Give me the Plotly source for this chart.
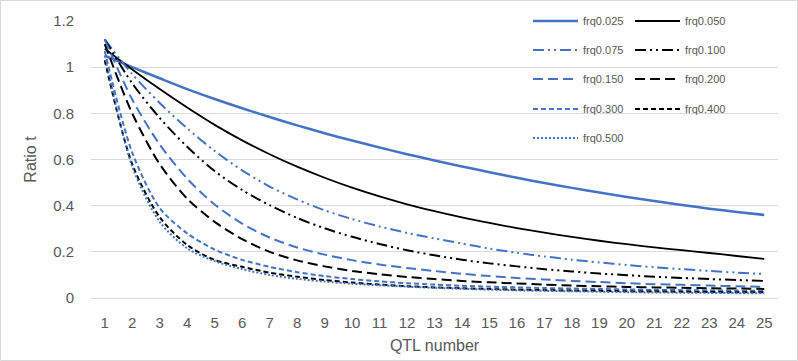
import plotly.graph_objects as go

qtl = list(range(1, 26))

frq0025 = [1.05, 1.00, 0.952, 0.905, 0.862, 0.822, 0.784, 0.748, 0.714, 0.682, 0.652, 0.623, 0.596, 0.57, 0.545,
           0.521, 0.498, 0.477, 0.457, 0.438, 0.42, 0.403, 0.387, 0.373, 0.360]
frq0050 = [1.08, 0.99, 0.905, 0.825, 0.75, 0.683, 0.623, 0.569, 0.521, 0.478, 0.44, 0.406, 0.376, 0.349, 0.325,
           0.303, 0.283, 0.265, 0.248, 0.233, 0.219, 0.207, 0.195, 0.182, 0.169]
frq0075 = [1.12, 0.97, 0.845, 0.735, 0.637, 0.553, 0.483, 0.427, 0.38, 0.342, 0.31, 0.282, 0.258, 0.236, 0.214,
           0.196, 0.18, 0.166, 0.154, 0.143, 0.133, 0.125, 0.117, 0.11, 0.104]
frq0100 = [1.12, 0.93, 0.78, 0.655, 0.55, 0.468, 0.402, 0.347, 0.302, 0.265, 0.234, 0.207, 0.185, 0.166, 0.15,
           0.137, 0.125, 0.115, 0.106, 0.099, 0.092, 0.087, 0.082, 0.078, 0.074]
frq0150 = [1.12, 0.86, 0.665, 0.517, 0.405, 0.322, 0.262, 0.219, 0.188, 0.164, 0.145, 0.13, 0.117, 0.105, 0.095,
           0.087, 0.08, 0.074, 0.069, 0.064, 0.06, 0.057, 0.054, 0.051, 0.048]
frq0200 = [1.10, 0.80, 0.58, 0.43, 0.33, 0.255, 0.20, 0.163, 0.137, 0.117, 0.103, 0.091, 0.082, 0.074, 0.068,
           0.063, 0.058, 0.054, 0.051, 0.048, 0.046, 0.044, 0.042, 0.041, 0.039]
frq0300 = [1.07, 0.63, 0.39, 0.28, 0.21, 0.165, 0.135, 0.112, 0.095, 0.082, 0.072, 0.064, 0.058, 0.053, 0.049,
           0.046, 0.043, 0.041, 0.039, 0.037, 0.035, 0.034, 0.033, 0.032, 0.031]
frq0400 = [1.03, 0.58, 0.35, 0.23, 0.165, 0.135, 0.11, 0.092, 0.078, 0.067, 0.058, 0.051, 0.046, 0.042, 0.039,
           0.036, 0.034, 0.032, 0.031, 0.029, 0.028, 0.027, 0.026, 0.025, 0.025]
frq0500 = [1.05, 0.57, 0.33, 0.215, 0.16, 0.125, 0.10, 0.083, 0.071, 0.062, 0.055, 0.049, 0.044, 0.04, 0.036,
           0.033, 0.031, 0.029, 0.027, 0.025, 0.024, 0.023, 0.022, 0.021, 0.020]

names = ["frq0.025", "frq0.050", "frq0.075", "frq0.100", "frq0.150",
         "frq0.200", "frq0.300", "frq0.400", "frq0.500"]
series = [frq0025, frq0050, frq0075, frq0100, frq0150, frq0200, frq0300, frq0400, frq0500]

BLUE = "#4472C4"
BLACK = "#000000"
colors = [BLUE, BLACK, BLUE, BLACK, BLUE, BLACK, BLUE, BLACK, BLUE]
LDDD = "11px,4px,2px,4px,2px,4px"
dashes = ["solid", "solid", LDDD, LDDD, "10px,5px", "10px,5px", "5px,3px", "5px,3px", "2px,2px"]
widths = [2.5, 1.8, 2, 2, 2, 2, 2, 2, 2]
legend_ids = ["legend", "legend", "legend2", "legend2", "legend3", "legend3", "legend4", "legend4", "legend5"]

W, H = 798, 361
ML, MR, MT, MB = 91, 20, 21, 63

fig = go.Figure()
for nm, ys, c, d, w, lg in zip(names, series, colors, dashes, widths, legend_ids):
    fig.add_trace(go.Scatter(
        x=qtl, y=ys, name=nm, mode="lines",
        line=dict(color=c, dash=d, width=w, shape="spline", smoothing=0.8),
        legend=lg,
    ))

GREY = "#595959"
row_y = [21, 50, 79, 109, 138]
legend_common = dict(
    orientation="h", xref="container", yref="container",
    x=528 / W, xanchor="left", yanchor="middle",
    bgcolor="rgba(0,0,0,0)", font=dict(family="Liberation Sans, Arial", size=11, color=GREY),
    entrywidthmode="pixels", entrywidth=42, itemwidth=45, tracegroupgap=0,
)
legend_layout = {}
for i, ry in enumerate(row_y):
    key = "legend" if i == 0 else f"legend{i+1}"
    legend_layout[key] = dict(legend_common, y=1 - ry / H)

fig.update_layout(
    width=W, height=H,
    margin=dict(l=ML, r=MR, t=MT, b=MB, autoexpand=False),
    paper_bgcolor="white", plot_bgcolor="white",
    font=dict(family="Liberation Sans, Arial", color=GREY),
    showlegend=True,
    **legend_layout,
    xaxis=dict(
        range=[0.5, 25.5], tickmode="array", tickvals=qtl, ticktext=[str(v) for v in qtl],
        showgrid=False, zeroline=False, showline=False, ticks="",
        tickfont=dict(size=15, color=GREY), ticklabelstandoff=14,
        title=dict(text="QTL number", font=dict(size=16, color=GREY), standoff=9),
    ),
    yaxis=dict(
        range=[0, 1.2], tickmode="array", tickvals=[0, 0.2, 0.4, 0.6, 0.8, 1.0, 1.2],
        ticktext=["0", "0.2", "0.4", "0.6", "0.8", "1", "1.2"],
        showgrid=True, gridcolor="#D9D9D9", gridwidth=1,
        zeroline=True, zerolinecolor="#D9D9D9", zerolinewidth=1,
        showline=False, ticks="", tickfont=dict(size=15, color=GREY), ticklabelstandoff=16,
        title=dict(text="Ratio t", font=dict(size=16, color=GREY), standoff=12),
    ),
)

pw, ph = W - ML - MR, H - MT - MB
fig.add_shape(
    type="rect", xref="paper", yref="paper",
    x0=(0.5 - ML) / pw, x1=(W - 0.5 - ML) / pw,
    y0=-(H - 0.5 - MT - ph) / ph, y1=(MT - 0.5) / ph + 1,
    line=dict(color="#D9D9D9", width=1), fillcolor="rgba(0,0,0,0)", layer="below",
)

fig.write_html("out.html")
